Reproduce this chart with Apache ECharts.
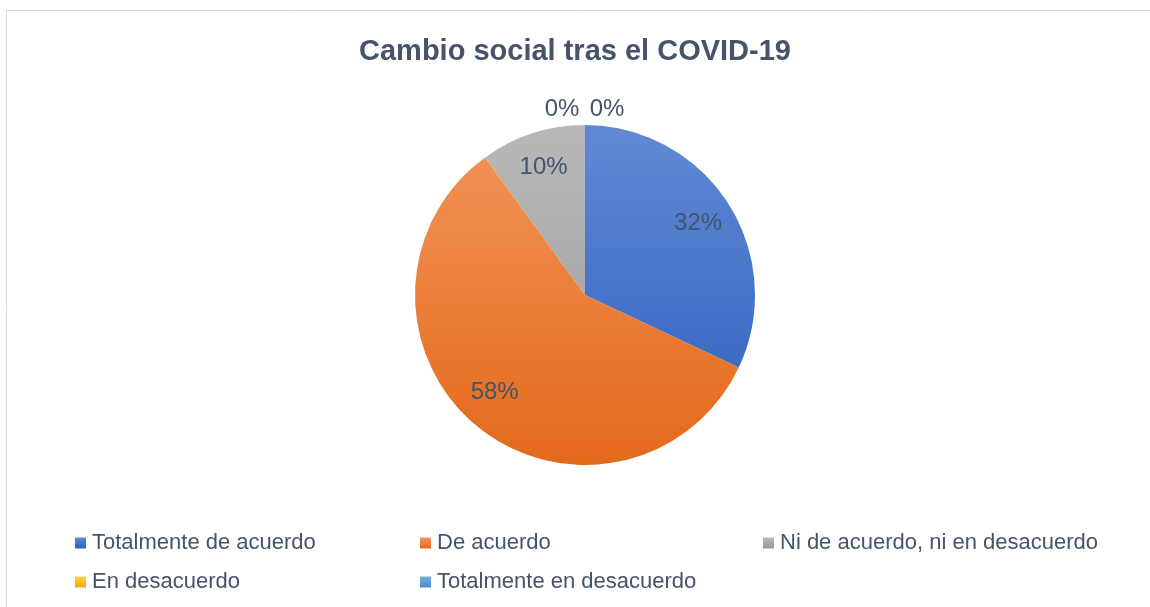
<!DOCTYPE html>
<html>
<head>
<meta charset="utf-8">
<script src="https://cdn.jsdelivr.net/npm/echarts@6/dist/echarts.min.js"></script>
<style>
html,body{margin:0;padding:0;background:#fff;}
#chart{width:1150px;height:607px;}
</style>
</head>
<body>
<div id="chart"></div>
<script>
const titleText = 'Cambio social tras el COVID-19';
const categories = ['Totalmente de acuerdo', 'De acuerdo', 'Ni de acuerdo, ni en desacuerdo', 'En desacuerdo', 'Totalmente en desacuerdo'];
const values = [32, 58, 10, 0, 0];
const colorsTop = ['#6189d5', '#f3955c', '#b8b8b8', '#ffd24d', '#7cb0e0'];
const colorsBottom = ['#2d5fbd', '#e3691a', '#9a9a9a', '#e6ac00', '#4a8cc9'];

const CX = 585, CY = 295, R = 170;
const textColor = '#44546a';
const FONT = 'Liberation Sans, Arial, sans-serif';

function grad(i) {
  return new echarts.graphic.LinearGradient(0, CY - R, 0, CY + R, [
    {offset: 0, color: colorsTop[i]}, {offset: 1, color: colorsBottom[i]}
  ], true);
}
function legendGrad(i) {
  return new echarts.graphic.LinearGradient(0, 0, 0, 1, [
    {offset: 0, color: colorsTop[i]}, {offset: 1, color: colorsBottom[i]}
  ]);
}

const pieData = categories.map((c, i) => ({name: c, value: values[i], itemStyle: {color: grad(i)}}));
const labelOffsets = {1: [-5, -6], 3: [-23, -52], 4: [22, -52]};
const labelData = categories.map((c, i) => {
  const d = {name: c, value: values[i]};
  if (labelOffsets[i]) d.label = {offset: labelOffsets[i]};
  return d;
});

const legendPos = [[75, 532], [420, 532], [763, 532], [75, 571], [420, 571]];
const legends = categories.map((c, i) => ({
  data: [{name: c, itemStyle: {color: legendGrad(i)}}],
  left: legendPos[i][0], top: legendPos[i][1],
  orient: 'horizontal', icon: 'rect', itemWidth: 11, itemHeight: 11, itemGap: 0,
  padding: 0,
  selectedMode: false,
  textStyle: {color: textColor, fontSize: 22, fontFamily: FONT, padding: [0, 0, 0, 1]}
}));

const chart = echarts.init(document.getElementById('chart'), null, {renderer: 'canvas'});
chart.setOption({
  backgroundColor: '#fff',
  animation: false,
  title: {
    text: titleText, left: 'center', top: 32,
    textStyle: {color: textColor, fontSize: 29, fontWeight: 'bold', fontFamily: FONT}
  },
  legend: legends,
  graphic: [{
    type: 'rect', silent: true,
    shape: {x: 6.5, y: 10.5, width: 1300, height: 800},
    style: {fill: 'none', stroke: '#d9d9d9', lineWidth: 1}
  }],
  series: [
    {
      type: 'pie', center: [CX, CY], radius: R, startAngle: 90, clockwise: true,
      avoidLabelOverlap: false, silent: true,
      label: {show: false}, labelLine: {show: false},
      data: pieData
    },
    {
      type: 'pie', center: [CX, CY], radius: [R * 0.54, R], startAngle: 90, clockwise: true,
      avoidLabelOverlap: false, silent: true, legendHoverLink: false,
      itemStyle: {color: 'rgba(0,0,0,0)'},
      label: {
        show: true, position: 'inside', formatter: '{c}%',
        color: textColor, fontSize: 24, fontFamily: FONT
      },
      labelLine: {show: false},
      data: labelData
    }
  ]
});
</script>
</body>
</html>
